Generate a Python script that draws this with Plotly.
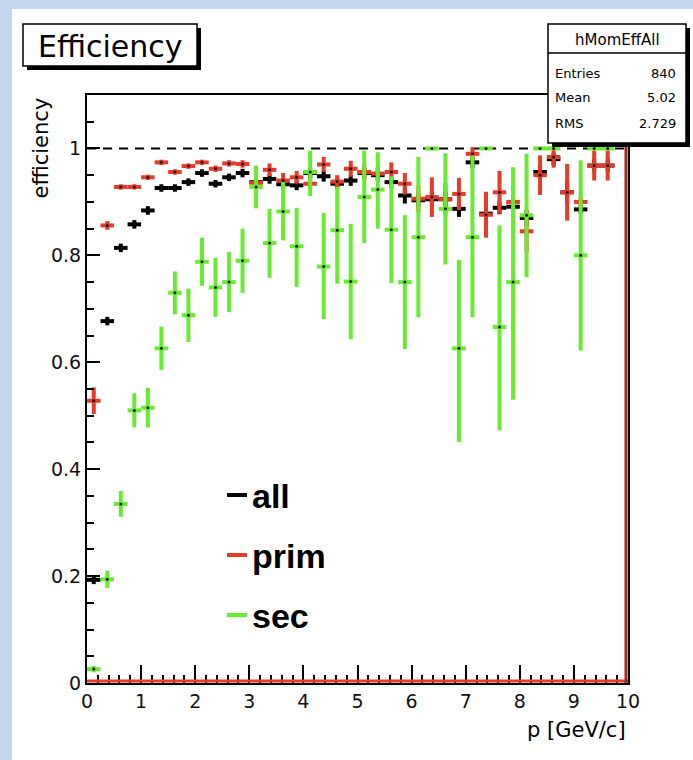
import plotly.graph_objects as go

# Momentum bins: 40 bins of 0.25 GeV/c between 0 and 10
bin_width = 0.25
p_centers = [0.125 + bin_width * k for k in range(40)]

# efficiency for all tracks
eff_all = [0.193, 0.677, 0.814, 0.858, 0.884, 0.926, 0.926, 0.937, 0.954, 0.934,
           0.946, 0.954, 0.937, 0.943, 0.933, 0.931, 0.954, 0.948, 0.934, 0.940,
           0.954, 0.950, 0.937, 0.912, 0.903, 0.905, 0.905, 0.887, 0.974, 0.878,
           0.889, 0.891, 0.870, 0.956, 0.980, 0.918, 0.886, 0.968, 0.968, None]
err_all = [0.008, 0.008, 0.008, 0.008, 0.008, 0.007, 0.007, 0.007, 0.007, 0.007,
           0.007, 0.008, 0.008, 0.009, 0.009, 0.009, 0.009, 0.010, 0.010, 0.010,
           0.010, 0.010, 0.011, 0.015, 0.012, 0.014, 0.014, 0.015, 0.010, 0.012,
           0.012, 0.010, 0.015, 0.012, 0.012, 0.020, 0.008, 0.012, 0.012, 0.0]

# efficiency for primary tracks
eff_prim = [0.528, 0.856, 0.928, 0.928, 0.946, 0.974, 0.956, 0.967, 0.974, 0.962,
            0.972, 0.971, 0.936, 0.960, 0.940, 0.946, 0.934, 0.970, 0.938, 0.962,
            0.956, 0.953, 0.956, 0.934, 0.906, 0.909, 0.905, 0.915, 0.990, 0.876,
            0.918, 0.900, 0.845, 0.950, 0.984, 0.918, 0.900, 0.968, 0.968, None]
err_prim = [0.025, 0.008, 0.005, 0.005, 0.005, 0.005, 0.005, 0.005, 0.005, 0.006,
            0.006, 0.007, 0.008, 0.012, 0.014, 0.012, 0.010, 0.014, 0.012, 0.015,
            0.015, 0.012, 0.018, 0.020, 0.025, 0.037, 0.030, 0.030, 0.012, 0.043,
            0.040, 0.015, 0.040, 0.037, 0.020, 0.053, 0.010, 0.028, 0.028, 0.0]

# efficiency for secondary tracks (asymmetric errors)
eff_sec = [0.026, 0.194, 0.335, 0.510, 0.515, 0.626, 0.730, 0.688, 0.788, 0.740,
           0.750, 0.790, 0.928, 0.823, 0.882, 0.817, 0.956, 0.779, 0.847, 0.751,
           0.909, 0.923, 0.848, 0.750, 0.834, 1.000, 0.887, 0.626, 0.834, 1.000,
           0.666, 0.750, 0.875, 1.000, 1.000, None, 0.800, 1.000, 1.000, None]
err_sec_up = [0.006, 0.016, 0.024, 0.032, 0.037, 0.041, 0.040, 0.050, 0.045, 0.055,
              0.056, 0.060, 0.040, 0.064, 0.055, 0.072, 0.040, 0.100, 0.081, 0.108,
              0.087, 0.070, 0.100, 0.125, 0.150, 0.0, 0.104, 0.166, 0.153, 0.0,
              0.190, 0.215, 0.115, 0.0, 0.0, 0.0, 0.178, 0.0, 0.0, 0.0]
err_sec_down = [0.006, 0.016, 0.024, 0.032, 0.037, 0.040, 0.040, 0.050, 0.045, 0.055,
                0.056, 0.060, 0.040, 0.065, 0.054, 0.076, 0.045, 0.098, 0.100, 0.108,
                0.086, 0.073, 0.100, 0.125, 0.150, 0.0, 0.104, 0.175, 0.150, 0.0,
                0.193, 0.220, 0.116, 0.0, 0.0, 0.0, 0.178, 0.0, 0.0, 0.0]

x_ticks = [0, 1, 2, 3, 4, 5, 6, 7, 8, 9, 10]
y_ticks = [0, 0.2, 0.4, 0.6, 0.8, 1.0]
y_tick_labels = ["0", "0.2", "0.4", "0.6", "0.8", "1"]

stats_rows = [("Entries", "840"), ("Mean", "5.02"), ("RMS", "2.729")]
legend_names = ["all", "prim", "sec"]

BLACK = "#000000"
RED = "#e83a28"
GREEN = "#68ec30"
CANVAS_BLUE = "#c4d6eb"

# pixel geometry of the frame inside the 693x760 canvas
FIG_W, FIG_H = 693, 760
L, R, T, B = 87, 628, 95, 683


def px(x):
    return (x - L) / (R - L)


def py(y):
    return (B - y) / (B - T)


def series(y, up, down, color):
    return go.Scatter(
        x=p_centers, y=y, mode="markers",
        marker=dict(color="#111111", size=3, symbol="circle"),
        error_x=dict(type="constant", value=bin_width / 2, color=color,
                     thickness=4, width=0),
        error_y=dict(type="data", array=up, arrayminus=down, symmetric=False,
                     color=color, thickness=4, width=0),
        showlegend=False, hoverinfo="skip", cliponaxis=True,
    )


fig = go.Figure()
fig.add_trace(series(eff_all, err_all, err_all, BLACK))
fig.add_trace(series(eff_prim, err_prim, err_prim, RED))
fig.add_trace(series(eff_sec, err_sec_up, err_sec_down, GREEN))

shapes = []
# canvas border bands
shapes.append(dict(type="rect", xref="paper", yref="paper", x0=px(0), x1=px(12),
                   y0=py(FIG_H), y1=py(0), fillcolor=CANVAS_BLUE, line_width=0, layer="below"))
shapes.append(dict(type="rect", xref="paper", yref="paper", x0=px(0), x1=px(FIG_W),
                   y0=py(9), y1=py(0), fillcolor=CANVAS_BLUE, line_width=0, layer="below"))
# reference line at efficiency 1
shapes.append(dict(type="line", xref="x", yref="y", x0=0, x1=10, y0=1, y1=1,
                   line=dict(color=BLACK, width=2, dash="9px,7px"), layer="below"))
# red histogram outline along the bottom and right edge
shapes.append(dict(type="line", xref="x", yref="paper", x0=0, x1=10, y0=py(B - 2), y1=py(B - 2),
                   line=dict(color=RED, width=3)))
shapes.append(dict(type="line", xref="paper", yref="paper", x0=px(R - 2), x1=px(R - 2),
                   y0=py(B), y1=py(T), line=dict(color="#9a2a20", width=3)))
# title box with shadow
shapes.append(dict(type="rect", xref="paper", yref="paper", x0=px(27), x1=px(201),
                   y0=py(70), y1=py(28), fillcolor=BLACK, line_width=0))
shapes.append(dict(type="rect", xref="paper", yref="paper", x0=px(23), x1=px(197),
                   y0=py(66), y1=py(24), fillcolor="white", line=dict(color=BLACK, width=1.5)))
# statistics box with shadow
shapes.append(dict(type="rect", xref="paper", yref="paper", x0=px(552), x1=px(690),
                   y0=py(147), y1=py(28), fillcolor=BLACK, line_width=0))
shapes.append(dict(type="rect", xref="paper", yref="paper", x0=px(548), x1=px(686),
                   y0=py(143), y1=py(24), fillcolor="white", line=dict(color=BLACK, width=1.5)))
shapes.append(dict(type="line", xref="paper", yref="paper", x0=px(548), x1=px(686),
                   y0=py(53), y1=py(53), line=dict(color=BLACK, width=1.5)))

annotations = []
annotations.append(dict(text="Efficiency", xref="paper", yref="paper", x=px(110), y=py(46),
                        xanchor="center", yanchor="middle", showarrow=False,
                        font=dict(family="DejaVu Sans", size=30, color=BLACK)))
annotations.append(dict(text="hMomEffAll", xref="paper", yref="paper", x=px(617), y=py(40),
                        xanchor="center", yanchor="middle", showarrow=False,
                        font=dict(family="DejaVu Sans", size=15, color=BLACK)))
for i, (label, value) in enumerate(stats_rows):
    yy = py(73 + 25 * i)
    annotations.append(dict(text=label, xref="paper", yref="paper", x=px(553), y=yy,
                            xanchor="left", yanchor="middle", showarrow=False,
                            font=dict(family="DejaVu Sans", size=13, color=BLACK)))
    annotations.append(dict(text=value, xref="paper", yref="paper", x=px(678), y=yy,
                            xanchor="right", yanchor="middle", showarrow=False,
                            font=dict(family="DejaVu Sans", size=13, color=BLACK)))
# axis titles
annotations.append(dict(text="efficiency", xref="paper", yref="paper", x=px(41), y=py(96),
                        xanchor="center", yanchor="top", textangle=-90, showarrow=False,
                        font=dict(family="DejaVu Sans", size=21, color=BLACK)))
annotations.append(dict(text="p [GeV/c]", xref="paper", yref="paper", x=px(628), y=py(730),
                        xanchor="right", yanchor="middle", showarrow=False,
                        font=dict(family="DejaVu Sans", size=21, color=BLACK)))
# legend
for i, (name, color) in enumerate(zip(legend_names, [BLACK, RED, GREEN])):
    yc = 495 + 60 * i
    shapes.append(dict(type="line", xref="paper", yref="paper", x0=px(227), x1=px(247),
                       y0=py(yc), y1=py(yc), line=dict(color=color, width=4)))
    annotations.append(dict(text="<b>%s</b>" % name, xref="paper", yref="paper", x=px(250),
                            y=py(yc + 1), xanchor="left", yanchor="middle", showarrow=False,
                            font=dict(family="Liberation Sans", size=34, color=BLACK)))

fig.update_layout(
    width=FIG_W, height=FIG_H,
    margin=dict(l=L, r=FIG_W - R, t=T, b=FIG_H - B, pad=0),
    paper_bgcolor="white", plot_bgcolor="white",
    shapes=shapes, annotations=annotations,
    xaxis=dict(range=[0, 10], tickvals=x_ticks, ticks="inside", ticklen=18, tickwidth=2,
               tickcolor=BLACK, showline=True, linecolor=BLACK, linewidth=2, mirror=True,
               showgrid=False, zeroline=False,
               tickfont=dict(family="DejaVu Sans", size=19, color="#111111"),
               minor=dict(dtick=0.2, ticks="inside", ticklen=8, tickwidth=2, tickcolor=BLACK,
                          showgrid=False)),
    yaxis=dict(range=[0, 1.1], tickvals=y_ticks, ticktext=y_tick_labels, ticks="inside",
               ticklen=13, tickwidth=2, tickcolor=BLACK, showline=True, linecolor=BLACK,
               linewidth=2, mirror=True, showgrid=False, zeroline=False,
               tickfont=dict(family="DejaVu Sans", size=19, color="#111111"),
               minor=dict(dtick=0.05, ticks="inside", ticklen=7, tickwidth=2, tickcolor=BLACK,
                          showgrid=False)),
)

fig.write_html("out.html")
